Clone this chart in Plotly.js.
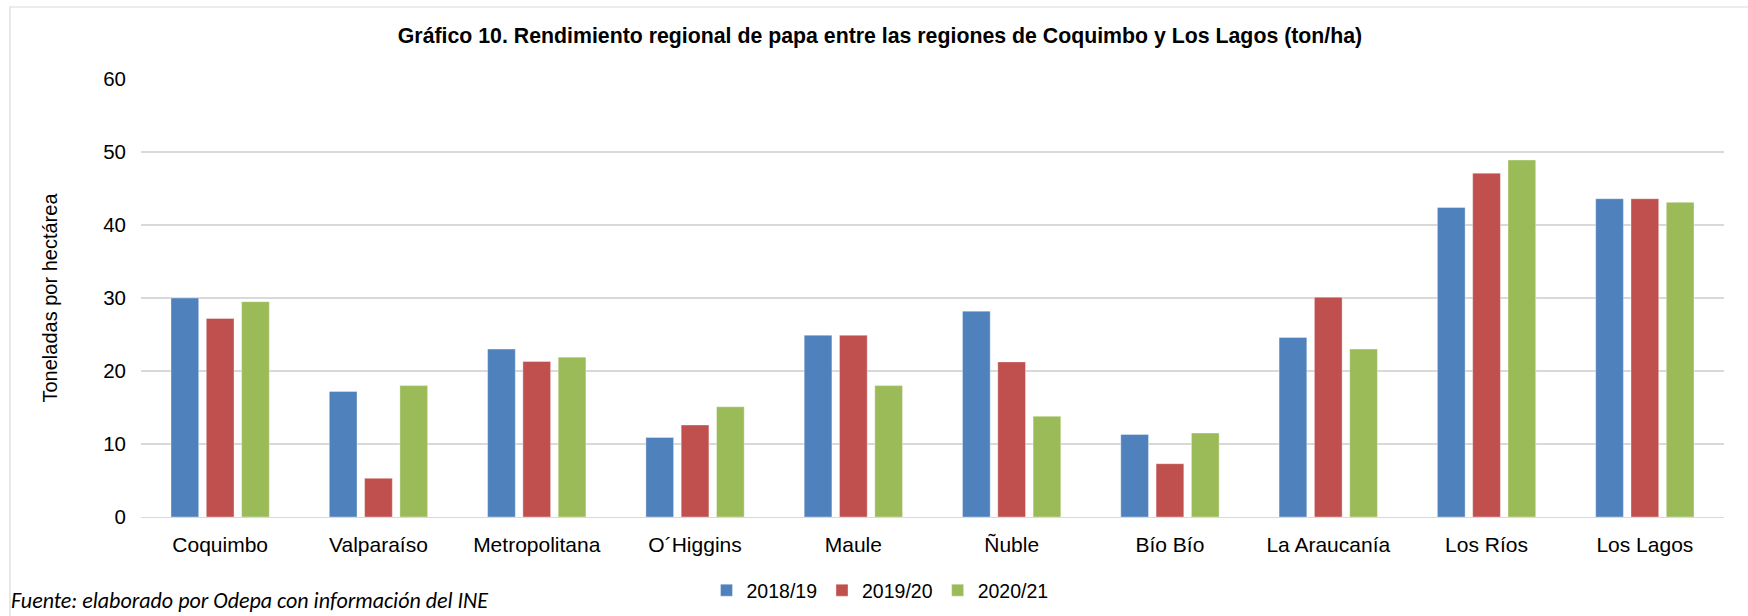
<!DOCTYPE html>
<html>
<head>
<meta charset="utf-8">
<script src="https://cdn.plot.ly/plotly-3.0.1.min.js"></script>
<style>
html,body{margin:0;padding:0;background:#fff;}
#chart{width:1748px;height:616px;}
</style>
</head>
<body>
<div id="chart"></div>
<script>
const categories = ["Coquimbo","Valparaíso","Metropolitana","O´Higgins","Maule","Ñuble","Bío Bío","La Araucanía","Los Ríos","Los Lagos"];
const seriesNames = ["2018/19","2019/20","2020/21"];
const v2018_19 = [30.0, 17.2, 23.0, 10.9, 24.9, 28.2, 11.3, 24.6, 42.4, 43.6];
const v2019_20 = [27.2, 5.3, 21.3, 12.6, 24.9, 21.25, 7.3, 30.1, 47.1, 43.6];
const v2020_21 = [29.5, 18.0, 21.9, 15.1, 18.0, 13.8, 11.5, 23.0, 48.9, 43.1];
const yTicks = [0, 10, 20, 30, 40, 50, 60];
const colors = ["#4F81BD", "#C0504D", "#9BBB59"];

const seriesValues = [v2018_19, v2019_20, v2020_21];
const traces = seriesValues.map((vals, i) => ({
  type: "bar",
  name: seriesNames[i],
  x: categories,
  y: vals,
  marker: {color: colors[i], line: {color: "rgba(255,255,255,0.6)", width: 0.6}},
  hoverinfo: "skip"
}));

const W = 1748, H = 616;
const L = 141, R = 24, T = 79, B = 99;
const pw = W - L - R, ph = H - T - B;
const px2x = p => (p - L) / pw;
const py2y = p => (H - B - p) / ph;

const layout = {
  width: W, height: H,
  margin: {l: L, r: R, t: T, b: B, pad: 0, autoexpand: false},
  paper_bgcolor: "#ffffff",
  plot_bgcolor: "#ffffff",
  barmode: "group",
  bargap: 0.331,
  bargroupgap: 0.215,
  font: {family: "Liberation Sans, Arial, sans-serif", color: "#000000"},
  title: {
    text: "<b>Gráfico 10. Rendimiento regional de papa entre las regiones de Coquimbo y Los Lagos (ton/ha)</b>",
    font: {family: "Liberation Sans, Arial, sans-serif", size: 21.3, color: "#000000"},
    x: 880 / W, xanchor: "center", xref: "container",
    y: 1 - 36 / H, yanchor: "middle", yref: "container"
  },
  xaxis: {
    type: "category",
    automargin: false,
    showgrid: false,
    showline: true, linecolor: "#D9D9D9", linewidth: 1.2,
    ticks: "",
    tickfont: {size: 21, color: "#000000"},
    ticklabelstandoff: 9,
    zeroline: false,
    fixedrange: true
  },
  yaxis: {
    range: [0, 60],
    automargin: false,
    tickvals: yTicks,
    ticktext: yTicks.map(String),
    showgrid: true, gridcolor: "#D9D9D9", gridwidth: 1.2,
    zeroline: false, showline: false,
    ticks: "",
    tickfont: {size: 20.5, color: "#000000"},
    ticklabelstandoff: 14,
    title: {text: "Toneladas por hectárea", font: {size: 20, color: "#000000"}, standoff: 40},
    fixedrange: true
  },
  showlegend: true,
  legend: {
    orientation: "h",
    x: px2x(880), xanchor: "center",
    y: py2y(590.5), yanchor: "middle",
    font: {size: 19.5, color: "#000000"},
    itemwidth: 30,
    traceorder: "normal",
    bgcolor: "rgba(0,0,0,0)"
  },
  shapes: [{
    type: "rect", xref: "paper", yref: "paper",
    x0: px2x(10), x1: px2x(1770), y0: py2y(640), y1: py2y(7),
    line: {color: "#D9D9D9", width: 1.2}, fillcolor: "rgba(0,0,0,0)", layer: "below"
  }],
  annotations: [{
    text: "<i>Fuente: elaborado por Odepa con información del INE</i>",
    xref: "paper", yref: "paper",
    x: px2x(9), xanchor: "left",
    y: py2y(600), yanchor: "middle",
    showarrow: false,
    font: {family: "Carlito, Lato, 'Open Sans', sans-serif", size: 22, color: "#000000"}
  }]
};

Plotly.newPlot("chart", traces, layout, {displayModeBar: false, staticPlot: true});
</script>
</body>
</html>
